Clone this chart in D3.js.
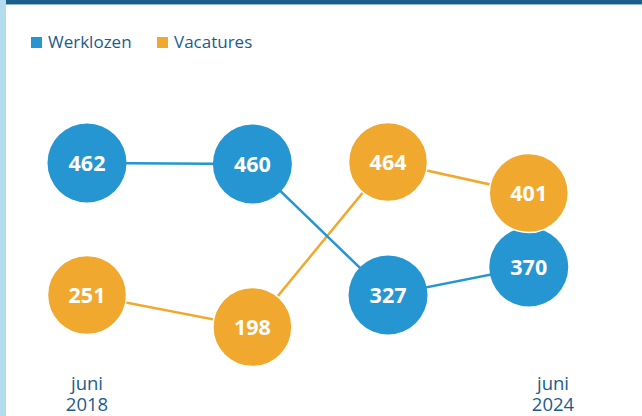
<!DOCTYPE html>
<html><head><meta charset="utf-8">
<script src="https://cdn.jsdelivr.net/npm/d3@7"></script>
<style>body{margin:0;background:#fff}svg{display:block;font-family:"Open Sans",sans-serif}</style>
</head><body><svg id="c" width="642" height="416"></svg>
<script>
const seriesNames = ["Werklozen", "Vacatures"];
const seriesColors = ["#2596d1", "#f0a92e"];
const dates = ["2018-06-15", "2020-08-01", "2022-05-01", "2024-02-22"];
const werklozen = [462, 460, 327, 370];
const vacatures = [251, 198, 464, 401];
const tickDates = ["2018-06-15", "2024-06-15"];
const tickLabels = [["juni", "2018"], ["juni", "2024"]];
// visual level layout of the design (value breakpoints -> vertical levels)
const levelDomain = [198, 251, 327, 370, 401, 464];

const svg = d3.select("#c");
const W = 642, H = 416;
const textColor = "#1d5b8c";
const parse = d3.timeParse("%Y-%m-%d");

// frame
svg.append("rect").attr("x", 0).attr("y", 0).attr("width", 6).attr("height", H).attr("fill", "#b3dcf1");
svg.append("rect").attr("x", 6).attr("y", 0).attr("width", W - 6).attr("height", 4).attr("fill", "#1a5e8c");
svg.append("rect").attr("x", 6).attr("y", 4).attr("width", W - 6).attr("height", 1).attr("fill", "#8fb8d3");

const x = d3.scaleTime().domain(tickDates.map(parse)).range([87, 553]);
const y = d3.scaleLinear().domain(levelDomain).range([327, 295, 295, 267, 193, 162]);

// legend
const leg = svg.append("g").attr("transform", "translate(31,37)");
const legX = [0, 126];
seriesNames.forEach((n, i) => {
  const g = leg.append("g").attr("transform", `translate(${legX[i]},0)`);
  g.append("rect").attr("width", 11).attr("height", 11).attr("fill", seriesColors[i]);
  g.append("text").attr("x", 17).attr("y", 10.5).attr("fill", textColor)
    .attr("font-size", 17).text(n);
});

const data = [werklozen, vacatures].map((vals, si) => vals.map((v, i) => ({v, d: parse(dates[i]), si})));
const line = d3.line().x(p => x(p.d)).y(p => y(p.v));

// lines: orange below blue
[1, 0].forEach(si => {
  svg.append("path").datum(data[si]).attr("d", line).attr("fill", "none")
    .attr("stroke", seriesColors[si]).attr("stroke-width", 2.5);
});

// circles: blue first, orange on top
[0, 1].forEach(si => {
  const g = svg.append("g");
  const pts = g.selectAll("g").data(data[si]).join("g")
    .attr("transform", p => `translate(${x(p.d)},${y(p.v)})`);
  pts.append("circle").attr("r", 39.5).attr("fill", seriesColors[si])
    .attr("stroke", "#fff").attr("stroke-width", si === 1 ? 1.5 : 0);
  pts.append("text").attr("text-anchor", "middle").attr("dy", "0.36em")
    .attr("fill", "#fff").attr("font-weight", 700).attr("font-size", 21.5)
    .text(p => p.v);
});

// axis labels
const axis = svg.append("g");
tickDates.forEach((t, i) => {
  const tx = axis.append("text").attr("x", x(parse(t))).attr("text-anchor", "middle")
    .attr("fill", textColor).attr("font-size", 18.5);
  tx.append("tspan").attr("x", x(parse(t))).attr("y", 390).text(tickLabels[i][0]);
  tx.append("tspan").attr("x", x(parse(t))).attr("y", 411).text(tickLabels[i][1]);
});
</script></body></html>
